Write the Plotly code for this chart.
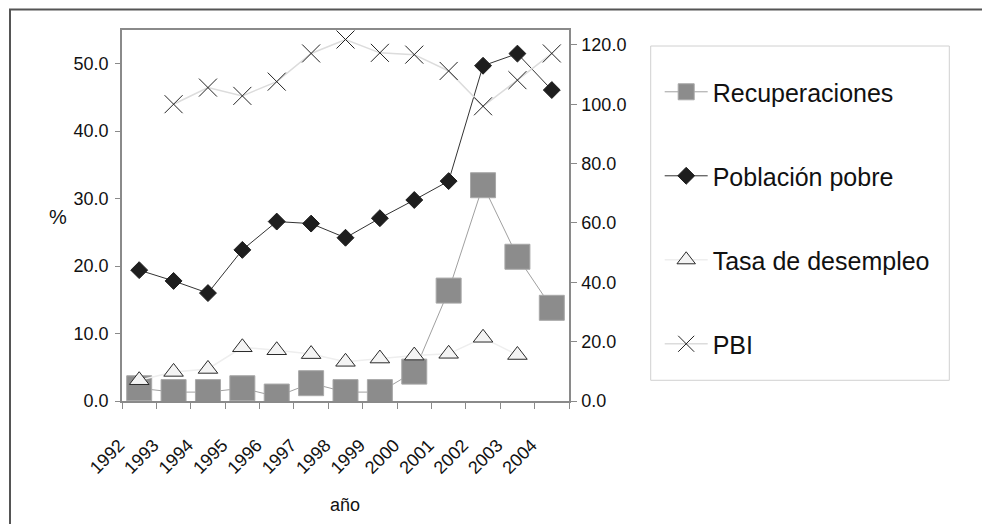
import plotly.graph_objects as go

years = ["1992", "1993", "1994", "1995", "1996", "1997", "1998",
         "1999", "2000", "2001", "2002", "2003", "2004"]

recuperaciones = [4.3, 3.0, 3.0, 4.3, 1.5, 6.0, 3.0, 3.0, 9.9, 37.2, 72.7, 48.6, 31.4]
poblacion_pobre = [19.4, 17.8, 16.0, 22.4, 26.6, 26.3, 24.2, 27.1, 29.8, 32.6, 49.7, 51.5, 46.1]
tasa_desempleo = [7.0, 9.8, 10.8, 18.1, 17.1, 15.8, 13.2, 14.3, 15.3, 15.9, 21.3, 15.5, None]
pbi = [None, 100.0, 105.6, 102.8, 107.6, 117.1, 121.8, 117.3, 116.7, 111.2, 99.3, 108.1, 117.1]

left_ticks = [0, 10, 20, 30, 40, 50]
right_ticks = [0, 20, 40, 60, 80, 100, 120]
left_range = [0, 55]
right_range = [0, 125]

FONT = "Liberation Sans, Arial, sans-serif"
AXIS_COLOR = "#8a8a8a"

# page offset compensation (body margin of the html page)
OFF = 8
W, H = 990 - OFF, 524 - OFF
PL, PR, PT, PB = 122 - OFF, 569 - OFF, 30 - OFF, 400.7 - OFF
PW, PH = PR - PL, PB - PT


def px(x):
    return (x - OFF - PL) / PW


def py(y):
    return (PB - (y - OFF)) / PH


fig = go.Figure()

fig.add_trace(go.Scatter(
    x=years, y=recuperaciones, name="Recuperaciones", yaxis="y2",
    mode="lines+markers", legendgroup="a",
    line=dict(color="#a0a0a0", width=1),
    marker=dict(symbol="square", size=25, color="#8c8c8c",
                line=dict(color="#a8a8a8", width=1)),
))
fig.add_trace(go.Scatter(
    x=years, y=poblacion_pobre, name="Población pobre", yaxis="y",
    mode="lines+markers", legendgroup="b",
    line=dict(color="#333333", width=1),
    marker=dict(symbol="diamond", size=13, color="#1e1e1e",
                line=dict(color="#1e1e1e", width=1)),
))
fig.add_trace(go.Scatter(
    x=years, y=tasa_desempleo, name="Tasa de desempleo", yaxis="y2",
    mode="lines+markers", legendgroup="c", connectgaps=False,
    line=dict(color="#eeeeee", width=1.5),
    marker=dict(symbol="triangle-up", size=17, color="#f4f4f4",
                line=dict(color="#2a2a2a", width=1)),
))
fig.add_trace(go.Scatter(
    x=years, y=pbi, name="PBI", yaxis="y2",
    mode="lines+markers", legendgroup="d",
    line=dict(color="#dcdcdc", width=1.5),
    marker=dict(symbol="x-thin-open", size=18, color="#222222",
                line=dict(color="#222222", width=1)),
))

n = len(years)
boundaries = [i - 0.5 for i in range(n + 1)]

fig.update_layout(
    width=W, height=H,
    margin=dict(l=PL, r=W - PR, t=PT, b=H - PB, pad=0),
    paper_bgcolor="white", plot_bgcolor="white",
    font=dict(family=FONT, size=18, color="#111111"),
    showlegend=True,
    legend=dict(
        x=px(650.7), y=py(69), xanchor="left", yanchor="top",
        borderwidth=0, bgcolor="rgba(0,0,0,0)",
        font=dict(family=FONT, size=25, color="#111111"),
        tracegroupgap=48.5, traceorder="grouped", itemwidth=43,
        indentation=9,
    ),
    xaxis=dict(
        type="category", categoryorder="array", categoryarray=years,
        range=[-0.5, n - 0.5], tickson="boundaries",
        ticks="outside", ticklen=6, tickcolor=AXIS_COLOR, tickwidth=1,
        showline=True, linecolor=AXIS_COLOR, linewidth=1.5, mirror=True,
        showgrid=False, zeroline=False, tickangle=-45,
        ticklabelstandoff=25, ticklabelshift=-20,
        tickfont=dict(size=18),
    ),
    xaxis2=dict(
        overlaying="x", anchor="y", side="bottom", range=[-0.5, n - 0.5],
        tickmode="array", tickvals=boundaries, ticks="inside", ticklen=3,
        tickcolor=AXIS_COLOR, showticklabels=False, showline=False,
        showgrid=False, zeroline=False,
    ),
    yaxis=dict(
        range=left_range, tickmode="array", tickvals=left_ticks,
        ticktext=[f"{v:.1f}" for v in left_ticks],
        ticks="outside", ticklen=5, tickcolor=AXIS_COLOR,
        showline=True, linecolor=AXIS_COLOR, linewidth=1.5,
        showgrid=False, zeroline=False, ticklabelstandoff=3,
    ),
    yaxis2=dict(
        range=right_range, tickmode="array", tickvals=right_ticks,
        ticktext=[f"{v:.1f}" for v in right_ticks],
        overlaying="y", side="right", anchor="x",
        ticks="outside", ticklen=6, tickcolor=AXIS_COLOR,
        showline=True, linecolor=AXIS_COLOR, linewidth=1.5,
        showgrid=False, zeroline=False, ticklabelstandoff=1,
    ),
    yaxis3=dict(
        range=left_range, tickmode="array", tickvals=left_ticks,
        overlaying="y", side="left", anchor="x",
        ticks="inside", ticklen=5, tickcolor=AXIS_COLOR,
        showticklabels=False, showline=False, showgrid=False, zeroline=False,
    ),
    yaxis4=dict(
        range=right_range, tickmode="array", tickvals=right_ticks,
        overlaying="y", side="right", anchor="x",
        ticks="inside", ticklen=6, tickcolor=AXIS_COLOR,
        showticklabels=False, showline=False, showgrid=False, zeroline=False,
    ),
    annotations=[
        dict(text="%", xref="paper", yref="paper", x=px(58), y=py(217),
             xanchor="center", yanchor="middle", showarrow=False,
             font=dict(family=FONT, size=20, color="#111111")),
        dict(text="año", xref="paper", yref="paper", x=px(345), y=py(505),
             xanchor="center", yanchor="middle", showarrow=False,
             font=dict(family=FONT, size=18, color="#111111")),
    ],
    shapes=[
        dict(type="rect", xref="paper", yref="paper",
             x0=px(10), x1=px(1010), y0=py(560), y1=py(9.5),
             line=dict(color="#555555", width=2), layer="below"),
        dict(type="rect", xref="paper", yref="paper",
             x0=px(650.7), x1=px(949.3), y0=py(380), y1=py(46),
             line=dict(color="#d0d0d0", width=1), fillcolor="white",
             layer="below"),
    ],
)

fig.write_html("out.html")
